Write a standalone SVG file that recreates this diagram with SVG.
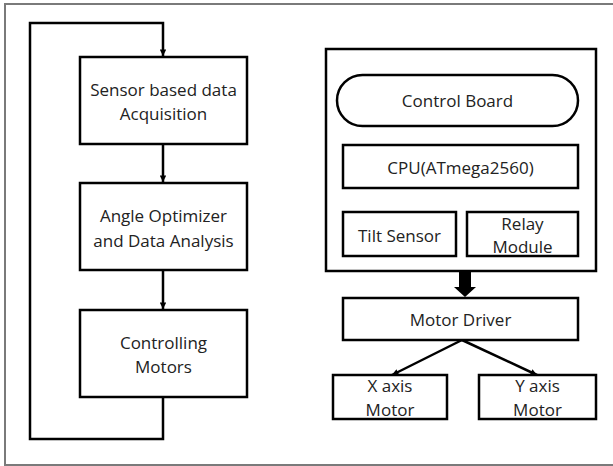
<svg xmlns="http://www.w3.org/2000/svg" width="613" height="466" viewBox="0 0 613 466">
<defs>
<style>
.box{fill:#fff;stroke:#000;stroke-width:2.5}
.ln{fill:none;stroke:#000;stroke-width:2.5}
.t{font-family:"Open Sans","Liberation Sans",sans-serif;font-size:17px;fill:#222;text-anchor:middle;dominant-baseline:central}
</style>
<marker id="ah" viewBox="0 0 10 10" refX="10" refY="5" markerWidth="3" markerHeight="2.6" orient="auto" markerUnits="strokeWidth">
<path d="M0,0 L10,5 L0,10 z" fill="#000"/>
</marker>
</defs>
<rect x="0" y="0" width="613" height="466" fill="#fff"/>
<rect x="5" y="4" width="640" height="461" fill="none" stroke="#7a7a7a" stroke-width="2"/>
<g id="connectors">
<path class="ln" d="M163,397 V439 H30 V23 H163 V56" marker-end="url(#ah)"/>
<path class="ln" d="M163,144 V182" marker-end="url(#ah)"/>
<path class="ln" d="M163,270 V309" marker-end="url(#ah)"/>
<path d="M459,272 H471 V287 H476 L465,297 L454,287 H459 Z" fill="#000"/>
<path class="ln" d="M462,340 L392,375" marker-end="url(#ah)"/>
<path class="ln" d="M462,340 L537,375" marker-end="url(#ah)"/>
</g>
<g id="n1"><rect class="box" x="80" y="57" width="167" height="87"/><text class="t" x="163.5" y="89">Sensor based data</text><text class="t" x="163.5" y="113">Acquisition</text></g>
<g id="n2"><rect class="box" x="80" y="183" width="167" height="87"/><text class="t" x="163.5" y="215">Angle Optimizer</text><text class="t" x="163.5" y="240">and Data Analysis</text></g>
<g id="n3"><rect class="box" x="80" y="310" width="167" height="87"/><text class="t" x="163.5" y="342">Controlling</text><text class="t" x="163.5" y="366">Motors</text></g>
<g id="board"><rect class="box" x="326" y="49" width="270" height="222"/></g>
<g id="control"><rect class="box" x="337" y="75" width="241" height="51" rx="25.5" ry="25.5" stroke-width="2"/><text class="t" x="457.5" y="100">Control Board</text></g>
<g id="cpu"><rect class="box" x="343" y="145" width="235" height="43"/><text class="t" x="460.5" y="167">CPU(ATmega2560)</text></g>
<g id="tilt"><rect class="box" x="343" y="212" width="113" height="44"/><text class="t" x="399.5" y="235">Tilt Sensor</text></g>
<g id="relay"><rect class="box" x="467" y="212" width="111" height="44"/><text class="t" x="522.5" y="223">Relay</text><text class="t" x="522.5" y="246">Module</text></g>
<g id="driver"><rect class="box" x="343" y="298" width="235" height="42"/><text class="t" x="460.5" y="319">Motor Driver</text></g>
<g id="xm"><rect class="box" x="333" y="375" width="114" height="44"/><text class="t" x="390" y="385">X axis</text><text class="t" x="390" y="409">Motor</text></g>
<g id="ym"><rect class="box" x="479" y="375" width="117" height="44"/><text class="t" x="537.5" y="385">Y axis</text><text class="t" x="537.5" y="409">Motor</text></g>
</svg>
